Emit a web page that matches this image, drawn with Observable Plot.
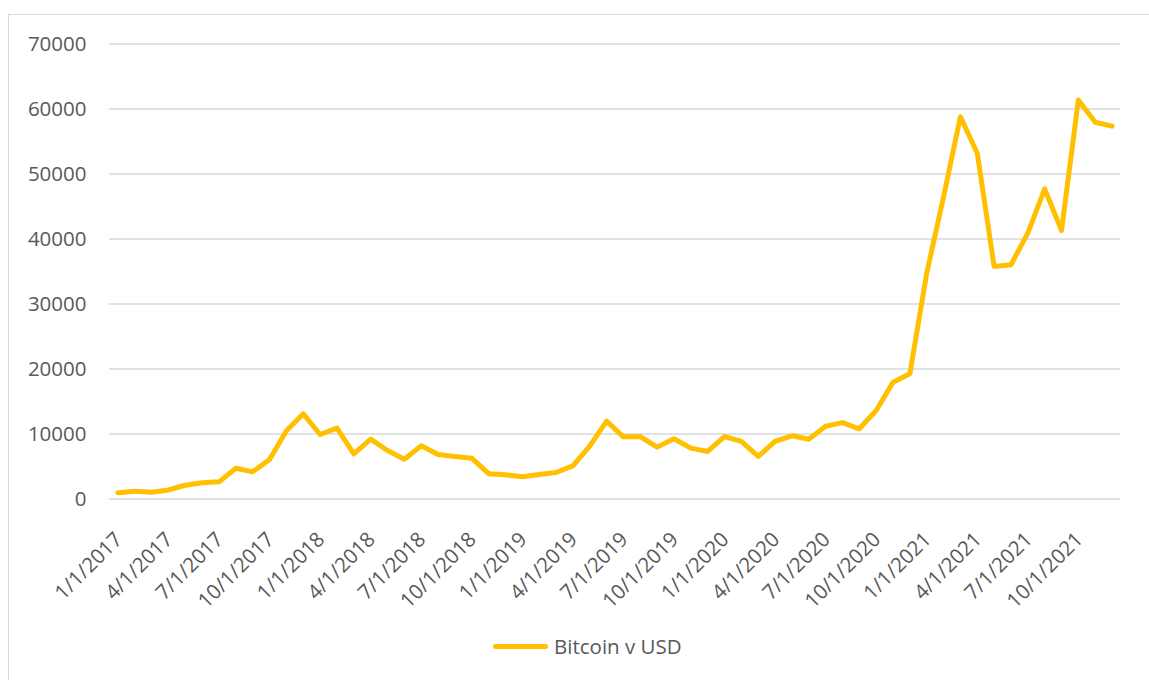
<!DOCTYPE html>
<html>
<head>
<meta charset="utf-8">
<script src="https://cdn.jsdelivr.net/npm/d3@7"></script>
<script src="https://cdn.jsdelivr.net/npm/@observablehq/plot@0.6"></script>
<style>
  html, body { margin: 0; padding: 0; background: #fff; }
  #wrap { position: relative; width: 1149px; height: 680px; overflow: hidden; font-family: "Open Sans", sans-serif; }
  #frame { position: absolute; left: 8px; top: 14px; width: 1200px; height: 700px; border-left: 1.5px solid #d9d9d9; border-top: 1.5px solid #d9d9d9; }
  #chart { position: absolute; left: 0; top: 0; }
  #legend { position: absolute; left: 493px; top: 632px; display: flex; align-items: center; color: #595959; font-size: 20.5px; }
  #legend .swatch { width: 55px; height: 5px; background: #FFC000; border-radius: 3px; margin-right: 6px; }
</style>
</head>
<body>
<div id="wrap">
  <div id="frame"></div>
  <div id="chart"></div>
  <div id="legend"><span class="swatch"></span><span>Bitcoin v USD</span></div>
</div>
<script>
// Monthly dates (m/1/yyyy), Jan 2017 – Dec 2021
const years = [2017, 2018, 2019, 2020, 2021];
const months = [1,2,3,4,5,6,7,8,9,10,11,12];
const dates = years.flatMap(y => months.map(m => `${m}/1/${y}`));

// Bitcoin price in USD
const prices2017 = [970, 1200, 1050, 1400, 2120, 2490, 2640, 4740, 4180, 6070, 10490, 13100];
const prices2018 = [9920, 10900, 6950, 9200, 7460, 6120, 8180, 6850, 6540, 6280, 3900, 3720];
const prices2019 = [3410, 3770, 4080, 5100, 8130, 11970, 9560, 9610, 7980, 9260, 7820, 7310];
const prices2020 = [9610, 8850, 6540, 8850, 9720, 9200, 11200, 11750, 10800, 13620, 17970, 19260];
const prices2021 = [34740, 46500, 58800, 53200, 35770, 36030, 40900, 47720, 41300, 61400, 57970, 57360];
const prices = [...prices2017, ...prices2018, ...prices2019, ...prices2020, ...prices2021];

const xTickLabels = dates.filter((d, i) => i % 3 === 0);
const yTicks = [0, 10000, 20000, 30000, 40000, 50000, 60000, 70000];
const seriesName = "Bitcoin v USD";

const data = dates.map((d, i) => ({date: d, price: prices[i]}));

const textColor = "#595959";
const fontSize = 20.5;

const chart = Plot.plot({
  width: 1149,
  height: 600,
  marginTop: 43.5,
  marginBottom: 101.5,
  marginLeft: 109,
  marginRight: 29,
  style: {background: "transparent", color: textColor, fontFamily: "'Open Sans', sans-serif", fontSize: fontSize + "px", overflow: "visible"},
  x: {type: "point", domain: dates, padding: 0.5, axis: null},
  y: {domain: [0, 70000], axis: null},
  marks: [
    Plot.gridY(yTicks, {stroke: "#d9d9d9", strokeOpacity: 1, strokeWidth: 1.5}),
    Plot.axisY(yTicks, {tickSize: 0, tickPadding: 23, fontSize, fill: textColor, label: null, tickFormat: d => String(d)}),
    Plot.text(xTickLabels, {x: d => d, frameAnchor: "bottom", rotate: -45, textAnchor: "end", lineAnchor: "middle", dx: 1, dy: 37, fontSize, fill: textColor}),
    Plot.line(data, {x: "date", y: "price", stroke: "#FFC000", strokeWidth: 5, strokeLinejoin: "round", strokeLinecap: "round"})
  ]
});
document.getElementById("chart").appendChild(chart);
</script>
</body>
</html>
